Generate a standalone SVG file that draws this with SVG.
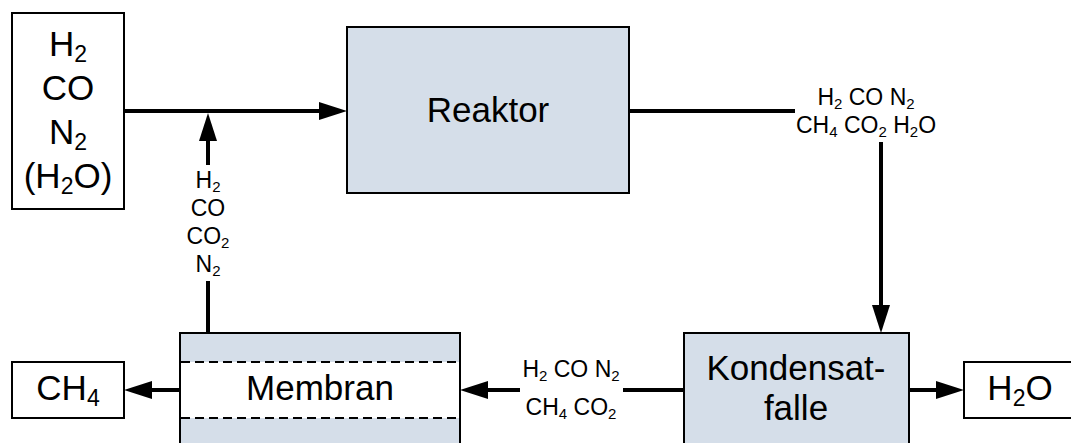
<svg xmlns="http://www.w3.org/2000/svg" width="1071" height="443" viewBox="0 0 1071 443">
<style>
  text { font-family: "Liberation Sans", Arial, sans-serif; fill: #000; text-anchor: middle; }
  .big { font-size: 35px; }
  .big .s { font-size: 23px; }
  .lbl { font-size: 23px; }
  .lbl .s { font-size: 15px; }
  .box { fill: #fff; stroke: #000; stroke-width: 2; }
  .proc { fill: #D5DEE9; stroke: #000; stroke-width: 2; }
  .con { fill: none; stroke: #000; stroke-width: 4; }
  .arr { marker-end: url(#ah); }
  .dash { stroke: #000; stroke-width: 2; stroke-dasharray: 9 5; fill: none; }
</style>
<defs>
  <marker id="ah" markerUnits="userSpaceOnUse" markerWidth="30" markerHeight="18" viewBox="0 0 30 18" refX="2" refY="9" orient="auto">
    <path d="M0,0 L28,9 L0,18 Z" fill="#000"/>
  </marker>
</defs>
<rect width="1071" height="443" fill="#fff"/>

<g id="connectors">
  <path class="con arr" d="M124,111 H321"/>
  <path class="con" d="M208,333 V281"/>
  <path class="con arr" d="M208,165 V139"/>
  <path class="con" d="M629,111 H795"/>
  <path class="con arr" d="M881,142 V307"/>
  <path class="con" d="M684,390 H623"/>
  <path class="con arr" d="M520,390 H486"/>
  <path class="con arr" d="M180,390 H150"/>
  <path class="con arr" d="M908,390 H938"/>
</g>

<g id="feed">
  <rect class="box" x="12" y="13" width="112" height="196"/>
  <text class="big" x="68" y="56">H<tspan class="s" dy="6">2</tspan></text>
  <text class="big" x="68" y="100">CO</text>
  <text class="big" x="68" y="144">N<tspan class="s" dy="6">2</tspan></text>
  <text class="big" x="68" y="188">(H<tspan class="s" dy="6">2</tspan><tspan dy="-6">O)</tspan></text>
</g>

<g id="reaktor">
  <rect class="proc" x="347" y="27" width="282" height="166"/>
  <text class="big" x="488" y="122">Reaktor</text>
</g>

<g id="label-reaktor-out">
  <text class="lbl" x="866" y="105">H<tspan class="s" dy="4">2</tspan><tspan dy="-4"> CO N</tspan><tspan class="s" dy="4">2</tspan></text>
  <text class="lbl" x="866" y="133">CH<tspan class="s" dy="4">4</tspan><tspan dy="-4"> CO</tspan><tspan class="s" dy="4">2</tspan><tspan dy="-4"> H</tspan><tspan class="s" dy="4">2</tspan><tspan dy="-4">O</tspan></text>
</g>

<g id="label-recycle">
  <text class="lbl" x="208" y="188">H<tspan class="s" dy="4">2</tspan></text>
  <text class="lbl" x="208" y="216">CO</text>
  <text class="lbl" x="208" y="244">CO<tspan class="s" dy="4">2</tspan></text>
  <text class="lbl" x="208" y="272">N<tspan class="s" dy="4">2</tspan></text>
</g>

<g id="membran">
  <rect class="proc" x="180" y="333" width="280" height="130"/>
  <rect x="181" y="362" width="278" height="56" fill="#fff"/>
  <path class="dash" d="M181,362 H459 M181,418 H459"/>
  <text class="big" x="320" y="400">Membran</text>
</g>

<g id="ch4">
  <rect class="box" x="12" y="362" width="112" height="56"/>
  <text class="big" x="68" y="400">CH<tspan class="s" dy="6">4</tspan></text>
</g>

<g id="label-kondensat-out">
  <text class="lbl" x="571" y="377">H<tspan class="s" dy="4">2</tspan><tspan dy="-4"> CO N</tspan><tspan class="s" dy="4">2</tspan></text>
  <text class="lbl" x="571" y="415">CH<tspan class="s" dy="4">4</tspan><tspan dy="-4"> CO</tspan><tspan class="s" dy="4">2</tspan></text>
</g>

<g id="kondensatfalle">
  <rect class="proc" x="684" y="333" width="225" height="130"/>
  <text class="big" x="796" y="380">Kondensat-</text>
  <text class="big" x="796" y="420">falle</text>
</g>

<g id="h2o">
  <rect class="box" x="964" y="362" width="112" height="56"/>
  <text class="big" x="1020" y="400">H<tspan class="s" dy="6">2</tspan><tspan dy="-6">O</tspan></text>
</g>
</svg>
